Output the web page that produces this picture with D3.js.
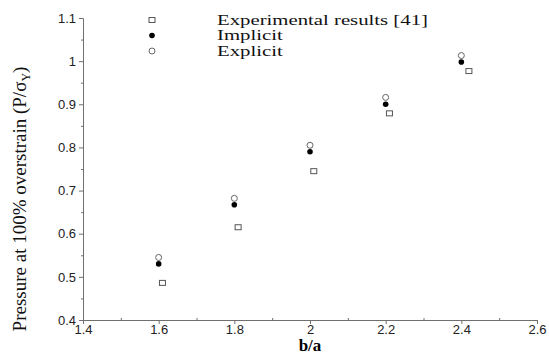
<!DOCTYPE html>
<html>
<head>
<meta charset="utf-8">
<script src="https://cdn.jsdelivr.net/npm/d3@7"></script>
<style>
  body { margin: 0; background: #fff; }
  svg { display: block; }
</style>
</head>
<body>
<svg id="chart"></svg>
<script>
// b/a ratios
const ratios = [1.6, 1.8, 2.0, 2.2, 2.4];
const expRatios = [1.61, 1.81, 2.01, 2.21, 2.42];
// pressure at 100% overstrain (P/sigma_Y)
const experimental = [0.486, 0.615, 0.745, 0.879, 0.977];
const implicit = [0.530, 0.667, 0.790, 0.900, 0.998];
const explicit = [0.545, 0.682, 0.805, 0.916, 1.013];
const xTicks = [1.4, 1.6, 1.8, 2.0, 2.2, 2.4, 2.6];
const yTicks = [0.4, 0.5, 0.6, 0.7, 0.8, 0.9, 1.0, 1.1];
const legendLabels = ['Experimental results [41]', 'Implicit', 'Explicit'];

const width = 549, height = 356;
const margin = { top: 18, right: 12, bottom: 36, left: 83 };
const axisColor = '#707070';

const svg = d3.select('#chart').attr('width', width).attr('height', height);

const x = d3.scaleLinear().domain([1.4, 2.6]).range([margin.left, width - margin.right]);
const y = d3.scaleLinear().domain([0.4, 1.1]).range([height - margin.bottom, margin.top]);

// minor ticks
svg.append('g')
  .attr('transform', `translate(0,${y(0.4)})`)
  .call(d3.axisTop(x).tickValues(d3.range(1.5, 2.6, 0.2)).tickSize(2).tickFormat(''))
  .call(g => g.select('.domain').remove())
  .call(g => g.selectAll('line').attr('stroke', axisColor));
svg.append('g')
  .attr('transform', `translate(${x(1.4)},0)`)
  .call(d3.axisLeft(y).tickValues(d3.range(0.45, 1.1, 0.1)).tickSize(2).tickFormat(''))
  .call(g => g.select('.domain').remove())
  .call(g => g.selectAll('line').attr('stroke', axisColor));

const xAxis = svg.append('g')
  .attr('transform', `translate(0,${y(0.4)})`)
  .call(d3.axisBottom(x).tickValues(xTicks).tickSize(4).tickPadding(1)
    .tickFormat(d => d === 2 ? '2' : d3.format('.1f')(d)));

const yAxis = svg.append('g')
  .attr('transform', `translate(${x(1.4)},0)`)
  .call(d3.axisLeft(y).tickValues(yTicks).tickSize(4).tickPadding(3)
    .tickFormat(d => d === 1 ? '1' : d3.format('.1f')(d)));

[xAxis, yAxis].forEach(g => {
  g.select('.domain').attr('stroke', axisColor);
  g.selectAll('line').attr('stroke', axisColor);
  g.selectAll('text')
    .attr('fill', '#222')
    .style('font-family', '"Liberation Sans", Arial, sans-serif')
    .style('font-size', '13px');
});

// markers
const squareSize = 6;
svg.append('g').selectAll('rect')
  .data(d3.zip(expRatios, experimental))
  .join('rect')
  .attr('x', d => x(d[0]) - squareSize / 2)
  .attr('y', d => y(d[1]) - (squareSize - 1) / 2)
  .attr('width', squareSize)
  .attr('height', squareSize - 1)
  .attr('fill', 'none')
  .attr('stroke', '#555')
  .attr('stroke-width', 1);

svg.append('g').selectAll('circle')
  .data(d3.zip(ratios, implicit))
  .join('circle')
  .attr('cx', d => x(d[0]))
  .attr('cy', d => y(d[1]))
  .attr('r', 2.8)
  .attr('fill', '#000');

svg.append('g').selectAll('circle')
  .data(d3.zip(ratios, explicit))
  .join('circle')
  .attr('cx', d => x(d[0]))
  .attr('cy', d => y(d[1]))
  .attr('r', 3)
  .attr('fill', 'none')
  .attr('stroke', '#666')
  .attr('stroke-width', 1);

// legend
const legend = svg.append('g').attr('transform', 'translate(152,20)');
const rowH = 15.5;
legend.append('rect').attr('x', -3).attr('y', -2.5).attr('width', 6).attr('height', 5)
  .attr('fill', 'none').attr('stroke', '#555');
legend.append('circle').attr('cx', 0).attr('cy', rowH).attr('r', 2.8).attr('fill', '#000');
legend.append('circle').attr('cx', 0).attr('cy', rowH * 2).attr('r', 3)
  .attr('fill', 'none').attr('stroke', '#666');
legend.append('g')
  .attr('transform', 'translate(65,0) scale(1.34,1)')
  .selectAll('text')
  .data(legendLabels)
  .join('text')
  .attr('x', 0)
  .attr('y', (d, i) => i * rowH + 5)
  .attr('fill', '#111')
  .style('font-family', '"Liberation Serif", "Times New Roman", serif')
  .style('font-size', '15.5px')
  .text(d => d);

// axis titles
svg.append('text')
  .attr('x', x(2.0))
  .attr('y', 351)
  .attr('text-anchor', 'middle')
  .style('font-family', '"Liberation Serif", "Times New Roman", serif')
  .style('font-size', '17px')
  .style('font-weight', 'bold')
  .text('b/a');

const yTitle = svg.append('text')
  .attr('transform', `translate(26,${(y(0.4) + y(1.1)) / 2 + 30}) rotate(-90)`)
  .attr('text-anchor', 'middle')
  .style('font-family', '"Liberation Serif", "Times New Roman", serif')
  .style('font-size', '19px')
  .attr('fill', '#111');
yTitle.append('tspan').text('Pressure at 100% overstrain (P/σ');
yTitle.append('tspan').attr('dy', 4).style('font-size', '12px').text('Y');
yTitle.append('tspan').attr('dy', -4).text(')');
</script>
</body>
</html>
